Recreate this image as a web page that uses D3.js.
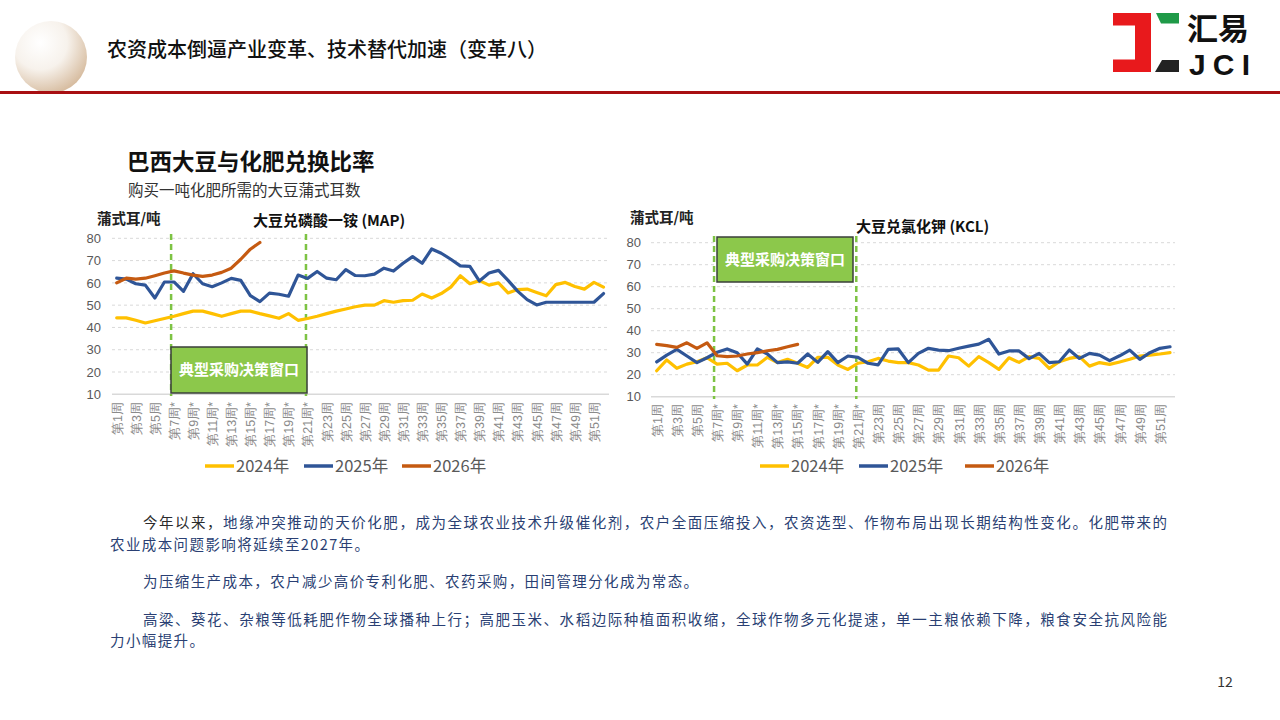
<!DOCTYPE html>
<html><head><meta charset="utf-8">
<script src="https://cdn.jsdelivr.net/npm/d3@7"></script>
<style>
html,body{margin:0;padding:0;background:#fff;}
svg{display:block;font-family:"Noto Sans CJK SC","Noto Sans",sans-serif;}
</style></head>
<body>
<svg id="c" width="1280" height="720"></svg>
<script>
// ---------------- DATA ----------------
const weeks = d3.range(1, 53);
const tickWeeks = [1,3,5,7,9,11,13,15,17,19,21,23,25,27,29,31,33,35,37,39,41,43,45,47,49,51];
const tickLabels = ["第1周","第3周","第5周","第7周*","第9周*","第11周*","第13周*","第15周*","第17周*","第19周*","第21周*","第23周","第25周","第27周","第29周","第31周","第33周","第35周","第37周","第39周","第41周","第43周","第45周","第47周","第49周","第51周"];
const yTicks = [10,20,30,40,50,60,70,80];
const seriesNames = ["2024年","2025年","2026年"];
const windowWeeks = [6.7, 20.83];
const windowLabel = "典型采购决策窗口";

const map2024 = [44.3,44.3,43.2,42,43,44,45,46.2,47.3,47.3,46.2,45,46.2,47.3,47.3,46.2,45.2,44.1,46.2,43.2,44,45,46.2,47.3,48.3,49.3,50,50,52,51.3,52,52.2,55,53.2,55.2,58.1,63.2,59.6,61,59,60,55.5,57,57.2,55.7,54.2,59.2,60.2,58.4,57.2,60.2,58.1];
const map2025 = [62.1,61.7,59.6,59,53.2,60.4,60.4,56.2,64.1,59.6,58.3,60,62,61.1,54.3,51.6,55.4,54.9,54,63.5,62,65.1,62.1,61.4,65.9,63.3,63.2,63.9,66.6,65.3,68.8,71.8,68.8,75.2,73.3,70.6,67.6,67.4,60.8,64.4,65.6,61.1,56.3,52.5,50.1,51.3,51.3,51.3,51.3,51.3,51.3,55.2];
const map2026 = [60,62.1,61.7,62.1,63.2,64.4,65.4,64.4,63.5,62.9,63.5,64.7,66.6,70.6,75.1,78.1];

const kcl2024 = [21.8,26.7,22.9,24.8,25.9,27.7,24.8,25.2,21.8,24.4,24.4,27.9,25.5,27,25.2,23.3,27.9,27.9,24.4,22.4,25.2,25.9,27.4,26.2,25.5,25.5,24.4,22.1,22.1,28.5,27.7,23.9,28.2,25.5,22.4,27.7,25.6,28.2,27.4,22.9,25.9,27.4,28.2,23.9,25.5,24.7,25.8,27,28.5,28.9,29.4,30];
const kcl2025 = [25.8,28.9,31.5,28.5,25.5,27.7,30.2,31.7,30,24.8,31.7,29.4,25.5,25.8,25.2,29.4,25.6,30.5,25.5,28.5,27.9,25.2,24.5,31.5,31.7,25.5,29.7,32,31.2,30.9,32,33,33.9,36.1,29.4,30.8,30.8,27.3,29.7,25.5,25.9,31.2,27.4,29.7,28.9,26.4,28.6,31.2,27,30,32,32.7];
const kcl2026 = [33.8,33.2,32.4,34.5,32,34.5,28.6,28.2,28.5,29.4,30,30.9,31.5,32.7,33.8];

const paragraphs = [
  [{t:"今年以来，",c:"#2b2b2b"},{t:"地缘冲突推动的天价化肥，成为全球农业技术升级催化剂，农户全面压缩投入，农资选型、作物布局出现长期结构性变化。化肥带来的",c:"#2a3f73"}],
  [{t:"农业成本问题影响将延续至2027年。",c:"#2a3f73"}],
  [{t:"为压缩生产成本，农户减少高价专利化肥、农药采购，田间管理分化成为常态。",c:"#2a3f73"}],
  [{t:"高粱、葵花、杂粮等低耗肥作物全球播种上行；高肥玉米、水稻边际种植面积收缩，全球作物多元化提速，单一主粮依赖下降，粮食安全抗风险能",c:"#2a3f73"}],
  [{t:"力小幅提升。",c:"#2a3f73"}]
];

// ---------------- STYLE ----------------
const colors = ["#FFC000","#2F5597","#C55A11"];
const svg = d3.select("#c");

// header
const defs = svg.append("defs");
const rg = defs.append("radialGradient").attr("id","sph").attr("cx","35%").attr("cy","30%").attr("r","75%");
rg.append("stop").attr("offset","0%").attr("stop-color","#ffffff");
rg.append("stop").attr("offset","50%").attr("stop-color","#f7f2ec");
rg.append("stop").attr("offset","100%").attr("stop-color","#d6bb9e");
defs.append("clipPath").attr("id","hclip").append("rect").attr("x",0).attr("y",0).attr("width",200).attr("height",91);
svg.append("circle").attr("cx",51).attr("cy",57).attr("r",36).attr("fill","url(#sph)").attr("clip-path","url(#hclip)");
svg.append("rect").attr("x",0).attr("y",91).attr("width",1280).attr("height",3).attr("fill","#a80f12");
svg.append("text").attr("x",107).attr("y",57).attr("font-size",20).attr("font-weight",500).attr("fill","#111")
  .text("农资成本倒逼产业变革、技术替代加速（变革八）");

// logo
svg.append("polygon").attr("points","1113,13 1151,13 1151,72 1113,72 1113,59.5 1135,59.5 1135,25.5 1113,25.5").attr("fill","#e8191c");
svg.append("polygon").attr("points","1156,13 1179,13 1179,23.5 1161,23.5").attr("fill","#1f9a48");
svg.append("polygon").attr("points","1162,60 1179,60 1179,72 1155,72").attr("fill","#222");
svg.append("text").attr("x",1187).attr("y",40).attr("font-size",31).attr("font-weight",700).attr("fill","#111").text("汇易");
svg.append("text").attr("x",1189).attr("y",75).attr("font-size",30).attr("font-weight",700).attr("fill","#111")
  .attr("textLength",61).attr("lengthAdjust","spacing").attr("font-family","Liberation Sans, sans-serif").text("JCI");

// titles
svg.append("text").attr("x",127).attr("y",170).attr("font-size",22.5).attr("font-weight",700).attr("fill","#111").text("巴西大豆与化肥兑换比率");
svg.append("text").attr("x",128).attr("y",196).attr("font-size",15.5).attr("fill","#333").text("购买一吨化肥所需的大豆蒲式耳数");

// ---------------- CHARTS ----------------
function drawChart(cfg){
  const g = svg.append("g");
  const x = d3.scaleLinear().domain([1,52]).range([cfg.x0,cfg.x1]);
  const y = d3.scaleLinear().domain([10,80]).range([cfg.yb,cfg.yt]);

  // gridlines
  g.selectAll(".grid").data(yTicks.filter(v=>v>10)).join("line")
    .attr("x1",cfg.gx0).attr("x2",cfg.gx1).attr("y1",d=>y(d)).attr("y2",d=>y(d))
    .attr("stroke","#d9d9d9").attr("stroke-width",1).attr("stroke-dasharray","3,3");
  g.append("line").attr("x1",cfg.gx0).attr("x2",cfg.gx1).attr("y1",y(10)).attr("y2",y(10))
    .attr("stroke","#d9d9d9").attr("stroke-width",1.5);

  // y axis
  const ya = g.append("g").attr("transform",`translate(${cfg.tickX},0)`)
    .call(d3.axisLeft(y).tickValues(yTicks).tickSize(0).tickPadding(0));
  ya.select(".domain").remove();
  ya.selectAll("text").attr("font-size",13).attr("fill","#595959").attr("font-family","Liberation Sans, Noto Sans, sans-serif");

  // x axis
  const xa = g.append("g").attr("transform",`translate(0,${cfg.yb})`)
    .call(d3.axisBottom(x).tickValues(tickWeeks).tickSize(0).tickFormat((d,i)=>tickLabels[i]));
  xa.select(".domain").remove();
  xa.selectAll("text").attr("font-size",12.5).attr("fill","#8a8a8a")
    .attr("text-anchor","end").attr("dy","0.35em")
    .attr("transform",`translate(0,${cfg.xlabTop - cfg.yb}) rotate(-90)`).attr("x",0).attr("y",0);

  // windows
  windowWeeks.forEach(w=>{
    g.append("line").attr("x1",x(w)).attr("x2",x(w)).attr("y1",cfg.dashTop).attr("y2",cfg.dashBot)
      .attr("stroke","#7dc343").attr("stroke-width",2.5).attr("stroke-dasharray","6,4");
  });
  g.append("rect").attr("x",cfg.box[0]).attr("y",cfg.box[1]).attr("width",cfg.box[2]).attr("height",cfg.box[3])
    .attr("fill","#8cc84b").attr("stroke","#3a3f3a").attr("stroke-width",1.5);
  g.append("text").attr("x",cfg.box[0]+cfg.box[2]/2).attr("y",cfg.box[1]+cfg.box[3]/2).attr("dy","0.36em")
    .attr("text-anchor","middle").attr("font-size",15).attr("font-weight",700).attr("fill","#fff").text(windowLabel);

  // lines
  const line = d3.line().x((d,i)=>x(weeks[i])).y(d=>y(d)).curve(d3.curveLinear);
  cfg.series.forEach((s,i)=>{
    g.append("path").attr("d",line(s)).attr("fill","none").attr("stroke",colors[i])
      .attr("stroke-width",3.2).attr("stroke-linejoin","round").attr("stroke-linecap","round");
  });

  // titles
  g.append("text").attr("x",cfg.yTitle[0]).attr("y",cfg.yTitle[1]).attr("font-size",14.5).attr("font-weight",700).attr("fill","#222").text("蒲式耳/吨");
  g.append("text").attr("x",cfg.cTitle[0]).attr("y",cfg.cTitle[1]).attr("font-size",15).attr("font-weight",700).attr("fill","#111").text(cfg.title);

  // legend
  seriesNames.forEach((n,i)=>{
    const lx = cfg.legend[i];
    g.append("line").attr("x1",lx).attr("x2",lx+29).attr("y1",cfg.legendY).attr("y2",cfg.legendY)
      .attr("stroke",colors[i]).attr("stroke-width",3.5);
    g.append("text").attr("x",lx+31).attr("y",cfg.legendY).attr("dy","0.36em").attr("font-size",16.5).attr("fill","#595959").text(n);
  });
}

drawChart({x0:116.7,x1:603.5,yb:394.3,yt:238.3,gx0:112,gx1:609,tickX:101,xlabTop:402,
  dashTop:234,dashBot:396,box:[171,347,136,46],yTitle:[97,224],cTitle:[253,226],title:"大豆兑磷酸一铵 (MAP)",
  legend:[205,304,402],legendY:466,series:[map2024,map2025,map2026]});
drawChart({x0:656.7,x1:1170,yb:396.7,yt:242.7,gx0:651,gx1:1175,tickX:641,xlabTop:404,
  dashTop:236,dashBot:399,box:[717,237,136,45],yTitle:[630,223],cTitle:[856,232],title:"大豆兑氯化钾 (KCL)",
  legend:[760,859,965],legendY:466,series:[kcl2024,kcl2025,kcl2026]});

// ---------------- PARAGRAPHS ----------------
const paraLayout = [
  {x:143,y:528,full:true},{x:110,y:550,full:false},{x:143,y:587,full:false},{x:143,y:625,full:true},{x:110,y:646,full:false}
];
paragraphs.forEach((segs,i)=>{
  const L = paraLayout[i];
  const t = svg.append("text").attr("x",L.x).attr("y",L.y).attr("font-size",14.5);
  if(L.full){ t.attr("textLength",1024).attr("lengthAdjust","spacing"); }
  else { t.attr("letter-spacing",1.4); }
  segs.forEach(s=>t.append("tspan").attr("fill",s.c).text(s.t));
});

svg.append("text").attr("x",1225).attr("y",687).attr("text-anchor","middle").attr("font-size",14).attr("fill","#333").text("12");
</script>
</body></html>
